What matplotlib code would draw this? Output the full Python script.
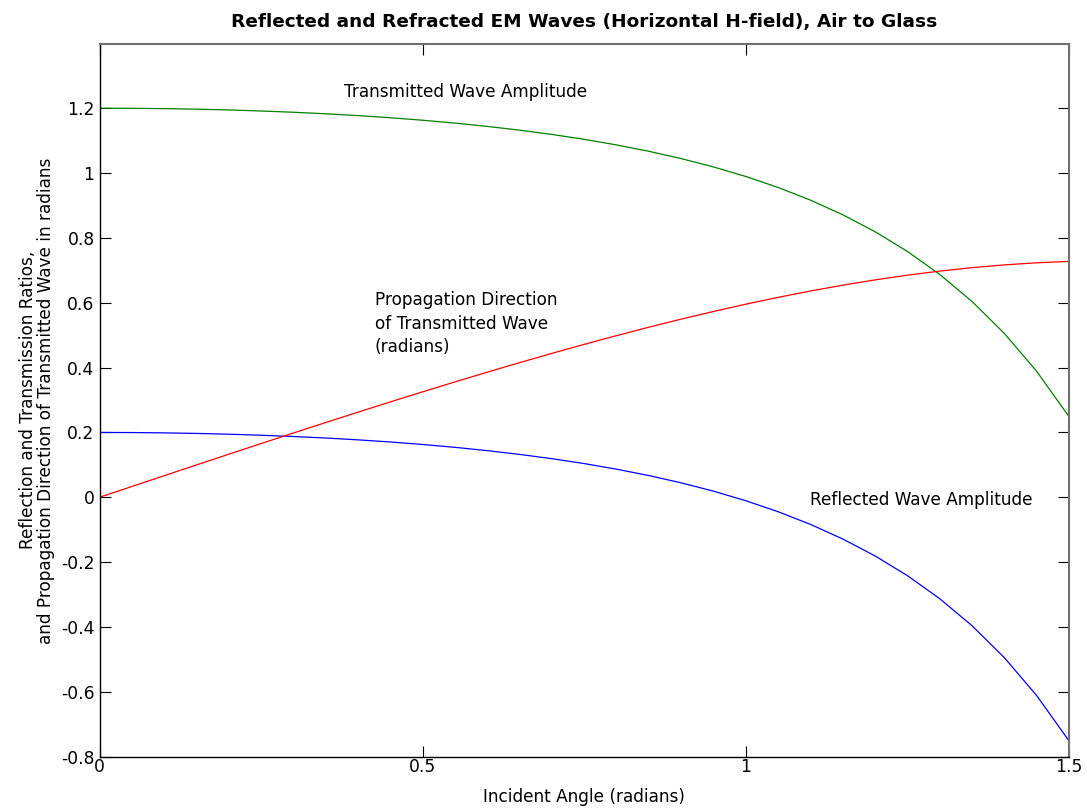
import matplotlib
matplotlib.use("Agg")
import matplotlib.pyplot as plt

# ---- data ----
incident_angle = [0.00, 0.05, 0.10, 0.15, 0.20, 0.25, 0.30, 0.35, 0.40, 0.45,
                  0.50, 0.55, 0.60, 0.65, 0.70, 0.75, 0.80, 0.85, 0.90, 0.95,
                  1.00, 1.05, 1.10, 1.15, 1.20, 1.25, 1.30, 1.35, 1.40, 1.45, 1.50]

reflected_amp = [0.2000, 0.1997, 0.1987, 0.1970, 0.1946, 0.1914, 0.1875, 0.1828,
                 0.1772, 0.1706, 0.1629, 0.1541, 0.1439, 0.1323, 0.1191, 0.1040,
                 0.0867, 0.0671, 0.0446, 0.0189, -0.0106, -0.0445, -0.0835,
                 -0.1286, -0.1808, -0.2417, -0.3127, -0.3961, -0.4946, -0.6115, -0.7512]

transmitted_amp = [1.2000, 1.1997, 1.1987, 1.1970, 1.1946, 1.1914, 1.1875, 1.1828,
                   1.1772, 1.1706, 1.1629, 1.1541, 1.1439, 1.1323, 1.1191, 1.1040,
                   1.0867, 1.0671, 1.0446, 1.0189, 0.9894, 0.9555, 0.9165,
                   0.8714, 0.8192, 0.7583, 0.6873, 0.6039, 0.5054, 0.3885, 0.2488]

propagation_dir = [0.0000, 0.0333, 0.0666, 0.0998, 0.1328, 0.1657, 0.1983, 0.2306,
                   0.2626, 0.2942, 0.3253, 0.3559, 0.3859, 0.4153, 0.4439, 0.4717,
                   0.4986, 0.5246, 0.5495, 0.5731, 0.5956, 0.6166, 0.6362,
                   0.6542, 0.6705, 0.6850, 0.6976, 0.7082, 0.7168, 0.7232, 0.7275]

x_ticks = [0, 0.5, 1, 1.5]
x_tick_labels = ["0", "0.5", "1", "1.5"]
y_ticks = [-0.8, -0.6, -0.4, -0.2, 0, 0.2, 0.4, 0.6, 0.8, 1.0, 1.2]
y_tick_labels = ["-0.8", "-0.6", "-0.4", "-0.2", "0", "0.2", "0.4", "0.6", "0.8", "1", "1.2"]

plt.rcParams['font.family'] = ['DejaVu Sans']
plt.rcParams['axes.unicode_minus'] = False

fig = plt.figure(figsize=(10.87, 8.08), dpi=100)
ax = fig.add_axes([0.09154, 0.06349, 0.98344 - 0.09154, 0.94554 - 0.06349])

lw = 0.9
ax.plot(incident_angle, reflected_amp, color=(0, 0, 1), lw=lw)
ax.plot(incident_angle, transmitted_amp, color=(0, 0.5, 0), lw=lw)
ax.plot(incident_angle, propagation_dir, color=(1, 0, 0), lw=lw)

ax.set_xlim(0, 1.5)
ax.set_ylim(-0.8, 1.398)
ax.set_xticks(x_ticks)
ax.set_xticklabels(x_tick_labels)
ax.set_yticks(y_ticks)
ax.set_yticklabels(y_tick_labels)

ax.tick_params(axis='both', which='both', direction='in', length=7.9, width=0.8,
               top=True, right=True, labelsize=12.3, colors='black')
ax.tick_params(axis='x', pad=1)
ax.tick_params(axis='y', pad=3.6)

for side in ['left', 'bottom']:
    ax.spines[side].set_color('black')
    ax.spines[side].set_linewidth(1.0)
for side in ['top', 'right']:
    ax.spines[side].set_color('#707070')
    ax.spines[side].set_linewidth(1.5)

ax.set_title('Reflected and Refracted EM Waves (Horizontal H-field), Air to Glass',
             fontsize=13.3, fontweight='bold', pad=12)
ax.set_xlabel('Incident Angle (radians)', fontsize=12.2, labelpad=8.5)
ax.set_ylabel('Reflection and Transmission Ratios,\n'
              'and Propagation Direction of Transmitted Wave in radians',
              fontsize=12.2, labelpad=4, linespacing=1.05)

ax.text(0.379, 1.235, 'Transmitted Wave Amplitude', fontsize=12.2,
        ha='left', va='baseline')
ax.text(0.4257, 0.636, 'Propagation Direction\nof Transmitted Wave\n(radians)',
        fontsize=12.2, ha='left', va='top', linespacing=1.39)
ax.text(1.100, -0.024, 'Reflected Wave Amplitude', fontsize=12.2,
        ha='left', va='baseline')

fig.savefig('out.png', dpi=100)
